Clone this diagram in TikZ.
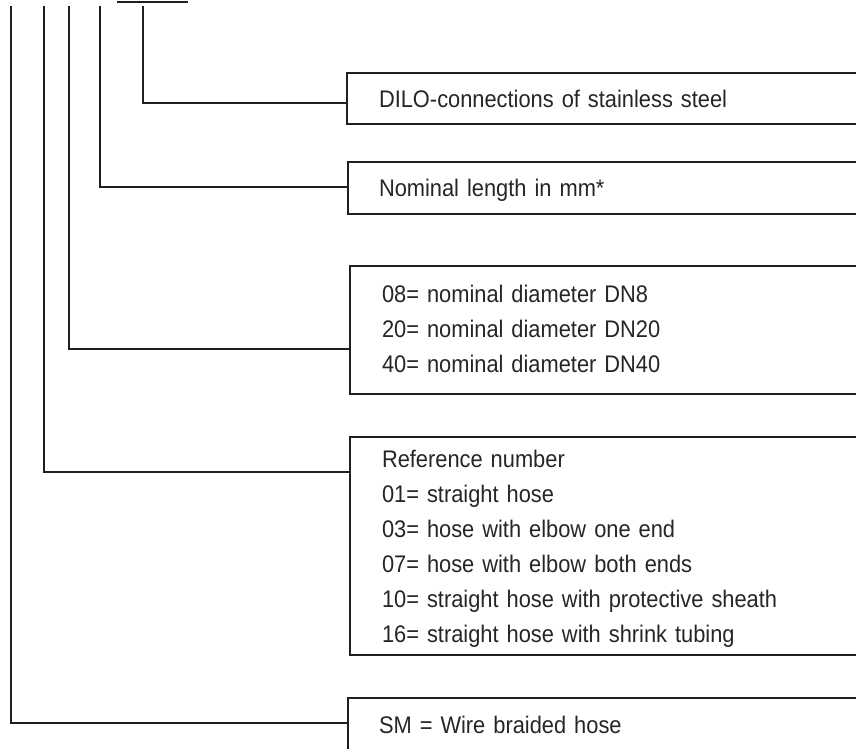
\documentclass[tikz,border=0pt]{standalone}
\usepackage{fontspec}
\setmainfont{Liberation Sans}[FakeStretch=0.91]
\begin{document}
\begin{tikzpicture}[x=1pt,y=1pt,
  line width=2pt, draw=black!88,
  box/.style={draw=black!88, line width=2pt, rectangle, anchor=north west, minimum width=580pt, inner sep=0pt},
  lbl/.style={anchor=base west, text=black!85, font=\fontsize{24pt}{35pt}\selectfont, text width=470pt, align=left, inner sep=0pt},
  conn/.style={draw=black!88, line width=2pt}]
\useasboundingbox (0,0) rectangle (856,-749);
\clip (0,0) rectangle (856,-749);
\fill[white] (0,0) rectangle (856,-749);
% boxes
\node[box, minimum height=51pt]  (b1) at (346,-72)  {};
\node[box, minimum height=52pt]  (b2) at (347,-161) {};
\node[box, minimum height=128pt] (b3) at (349,-265) {};
\node[box, minimum height=218pt] (b4) at (349,-436) {};
\node[box, minimum height=60pt]  (b5) at (347,-697) {};
% labels
\node[lbl] (l1) at ([xshift=32pt,yshift=-35pt]b1.north west) {DILO-connections of stainless steel};
\node[lbl] (l2) at ([xshift=31pt,yshift=-35pt]b2.north west) {Nominal length in mm*};
\node[lbl] (l3) at ([xshift=32pt,yshift=-37pt]b3.north west) {08= nominal diameter DN8\\20= nominal diameter DN20\\40= nominal diameter DN40};
\node[lbl] (l4) at ([xshift=32pt,yshift=-31pt]b4.north west) {Reference number\\01= straight hose\\03= hose with elbow one end\\07= hose with elbow both ends\\10= straight hose with protective sheath\\16= straight hose with shrink tubing};
\node[lbl] (l5) at ([xshift=31pt,yshift=-36pt]b5.north west) {SM = Wire braided hose};
% top ends of the leader lines
\coordinate (t1) at (143,-6);
\coordinate (t2) at (100,-6);
\coordinate (t3) at (69,-6);
\coordinate (t4) at (44,-6);
\coordinate (t5) at (11,-6);
\coordinate (u1) at (117,-2);
\coordinate (u2) at (188,-2);
\draw[conn, line width=1.5pt] (u1) -- (u2);
% connectors
\draw[conn] (t1) |- ([yshift=-31pt]b1.north west);
\draw[conn] (t2) |- ([yshift=-26pt]b2.north west);
\draw[conn] (t3) |- ([yshift=-84pt]b3.north west);
\draw[conn] (t4) |- ([yshift=-36pt]b4.north west);
\draw[conn] (t5) |- ([yshift=-26pt]b5.north west);
\end{tikzpicture}
\end{document}
